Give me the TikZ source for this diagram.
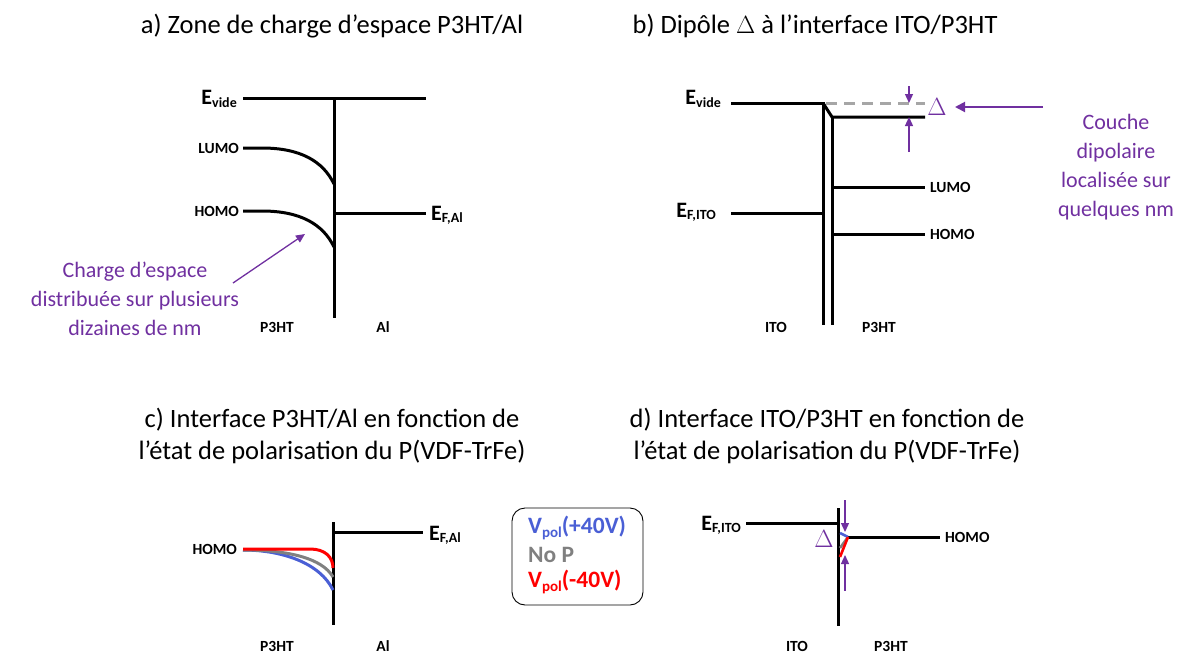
\documentclass[tikz,border=0pt]{standalone}
\usepackage{fontspec}
\setmainfont{Carlito}
\usetikzlibrary{arrows.meta}
\definecolor{purp}{HTML}{7030A0}
\definecolor{polblue}{HTML}{4A5FD5}
\definecolor{polred}{HTML}{FF0000}
\definecolor{polgray}{HTML}{808080}
\definecolor{dashgray}{HTML}{A6A6A6}
\newcommand\Elab[2]{{\fontsize{22}{22}\selectfont #1}\raisebox{-0.45ex}{\fontsize{14}{14}\selectfont #2}}
\newcommand\Vpol[1]{V\raisebox{-0.4ex}{\fontsize{15}{15}\selectfont pol}(#1)}
\begin{document}
\begin{tikzpicture}[x=1pt,y=-1pt,
  band/.style={line width=3pt},
  title/.style={font=\fontsize{26.5}{32}\selectfont, align=center},
  lev/.style={font=\bfseries\fontsize{15.5}{16}\selectfont},
  elev/.style={font=\bfseries},
  note/.style={text=purp, font=\fontsize{22}{29}\selectfont, align=center},
  parrow/.style={purp, line width=1.3pt, -{Triangle[length=9pt,width=8pt]}},
  parrowb/.style={purp, line width=2pt, -{Triangle[length=10pt,width=10pt]}},
  legtxt/.style={font=\bfseries\fontsize{23.5}{27}\selectfont, anchor=west, inner sep=0pt}
]
\useasboundingbox (0,0) rectangle (1183,653);

% ---------- titles
\node[title] (ta) at (332,26) {a) Zone de charge d’espace P3HT/Al};
\node[title] (tb) at (815,26) {b) Dipôle $\Delta$ à l’interface ITO/P3HT};
\node[title] (tc) at (332,436) {c) Interface P3HT/Al en fonction de\\l’état de polarisation du P(VDF-TrFe)};
\node[title] (td) at (827,436) {d) Interface ITO/P3HT en fonction de\\l’état de polarisation du P(VDF-TrFe)};

% ---------- panel a
\coordinate (aV1) at (243,98);
\coordinate (aV2) at (426,98);
\coordinate (aI1) at (334,98);
\coordinate (aI2) at (334,318);
\coordinate (aF1) at (334,213);
\coordinate (aF2) at (426,213);
\draw[band] (aV1) -- (aV2);
\draw[band] (aI1) -- (aI2);
\draw[band] (aF1) -- (aF2);
\draw[band] (243,148) -- (262,148) .. controls (300,148) and (323,161) .. (334,184);
\draw[band] (243,211) -- (262,211) .. controls (300,211) and (323,224) .. (334,247);
\node[elev, anchor=east, inner sep=1pt] (aEv) at (238,99) {\Elab{E}{vide}};
\node[elev, anchor=west, inner sep=1pt] (aEf) at (430,215) {\Elab{E}{F,Al}};
\node[lev, anchor=east, inner sep=1pt] (aL) at (240,148) {LUMO};
\node[lev, anchor=east, inner sep=1pt] (aH) at (240,211) {HOMO};
\node[lev] (aP) at (277,327) {P3HT};
\node[lev] (aA) at (383,327) {Al};
\node[note] (aN) at (135,299) {Charge d’espace\\distribuée sur plusieurs\\dizaines de nm};
\coordinate (aT) at (233,283);
\coordinate (aH2) at (305,234);
\draw[parrow] (aT) -- (aH2);

% ---------- panel b
\coordinate (bV1) at (731,103);
\coordinate (bK) at (823,103);
\coordinate (bK2) at (832,117);
\coordinate (bV2) at (925,117);
\coordinate (bD2) at (925,103);
\draw[band] (bV1) -- (bK) -- (823,325);
\draw[band] (bK) -- (bK2) -- (bV2);
\draw[band] (bK2) -- (832,325);
\draw[dashgray, line width=3pt, dash pattern=on 11pt off 7pt] (826,103) -- (bD2);
\draw[band] (731,213) -- (823,213);
\draw[band] (832,187) -- (925,187);
\draw[band] (832,234) -- (925,234);
\node[elev, anchor=east, inner sep=1pt] (bEv) at (722,99) {\Elab{E}{vide}};
\node[elev, anchor=east, inner sep=1pt] (bEf) at (717,212) {\Elab{E}{F,ITO}};
\node[lev, anchor=west, inner sep=1pt] (bL) at (929,187) {LUMO};
\node[lev, anchor=west, inner sep=1pt] (bH) at (929,234) {HOMO};
\node[lev] (bI) at (776,327) {ITO};
\node[lev] (bP) at (879,327) {P3HT};
\coordinate (bA1) at (909,86);
\coordinate (bA1t) at (909,103);
\coordinate (bA2) at (909,152);
\coordinate (bA2t) at (909,117);
\draw[parrow] (bA1) -- (bA1t);
\draw[parrow] (bA2) -- (bA2t);
\node[text=purp, font=\fontsize{25}{25}\selectfont, inner sep=0pt] (bDel) at (937,107) {$\Delta$};
\coordinate (bArT) at (1043,107);
\coordinate (bArH) at (955,107);
\draw[parrowb] (bArT) -- (bArH);
\node[note] (bN) at (1116,167) {Couche\\dipolaire\\localisée sur\\quelques nm};

% ---------- panel c
\coordinate (cI1) at (333,522);
\coordinate (cI2) at (333,625);
\draw[band] (cI1) -- (cI2);
\draw[band] (333,532) -- (423,532);
\draw[polblue, line width=3pt] (243,550) .. controls (282,550) and (320,563) .. (333,590);
\draw[polgray, line width=3pt] (243,550) .. controls (288,550) and (322,558) .. (333,577);
\draw[polred, line width=3pt] (243,549) -- (310,549) .. controls (325,549) and (333,557) .. (333,568);
\node[lev, anchor=east, inner sep=1pt] (cH) at (238,549) {HOMO};
\node[elev, anchor=west, inner sep=1pt] (cEf) at (428,535) {\Elab{E}{F,Al}};
\node[lev] (cP) at (277,646) {P3HT};
\node[lev] (cA) at (383,646) {Al};

% ---------- legend
\node[draw, line width=0.9pt, rounded corners=13pt, minimum width=131pt, minimum height=97pt] (leg) at (577.5,556.5) {};
\node[legtxt, text=polblue] (l1) at (528,528) {\Vpol{+40V}};
\node[legtxt, text=polgray] (l2) at (528,555) {No P};
\node[legtxt, text=polred] (l3) at (528,582) {\Vpol{-40V}};

% ---------- panel d
\coordinate (dI1) at (838,508);
\coordinate (dI2) at (838,626);
\draw[band] (dI1) -- (dI2);
\draw[band] (746,523) -- (838,523);
\draw[band] (848,537) -- (940,537);
\draw[polgray, line width=2.6pt] (840,548) -- (848,537);
\draw[polblue, line width=2.6pt] (840,533) -- (848,537);
\draw[polred, line width=2.6pt] (840,557) -- (848,537);
\node[elev, anchor=east, inner sep=1pt] (dEf) at (742,525) {\Elab{E}{F,ITO}};
\node[lev, anchor=west, inner sep=1pt] (dH) at (944,537) {HOMO};
\node[lev] (dI) at (797,646) {ITO};
\node[lev] (dP) at (891,646) {P3HT};
\coordinate (dA1) at (845,500);
\coordinate (dA1t) at (845,532);
\coordinate (dA2) at (845,591);
\coordinate (dA2t) at (845,555);
\draw[parrow] (dA1) -- (dA1t);
\draw[parrow] (dA2) -- (dA2t);
\node[text=purp, font=\fontsize{25}{25}\selectfont, inner sep=0pt] (dDel) at (824,539) {$\Delta$};
\end{tikzpicture}
\end{document}
